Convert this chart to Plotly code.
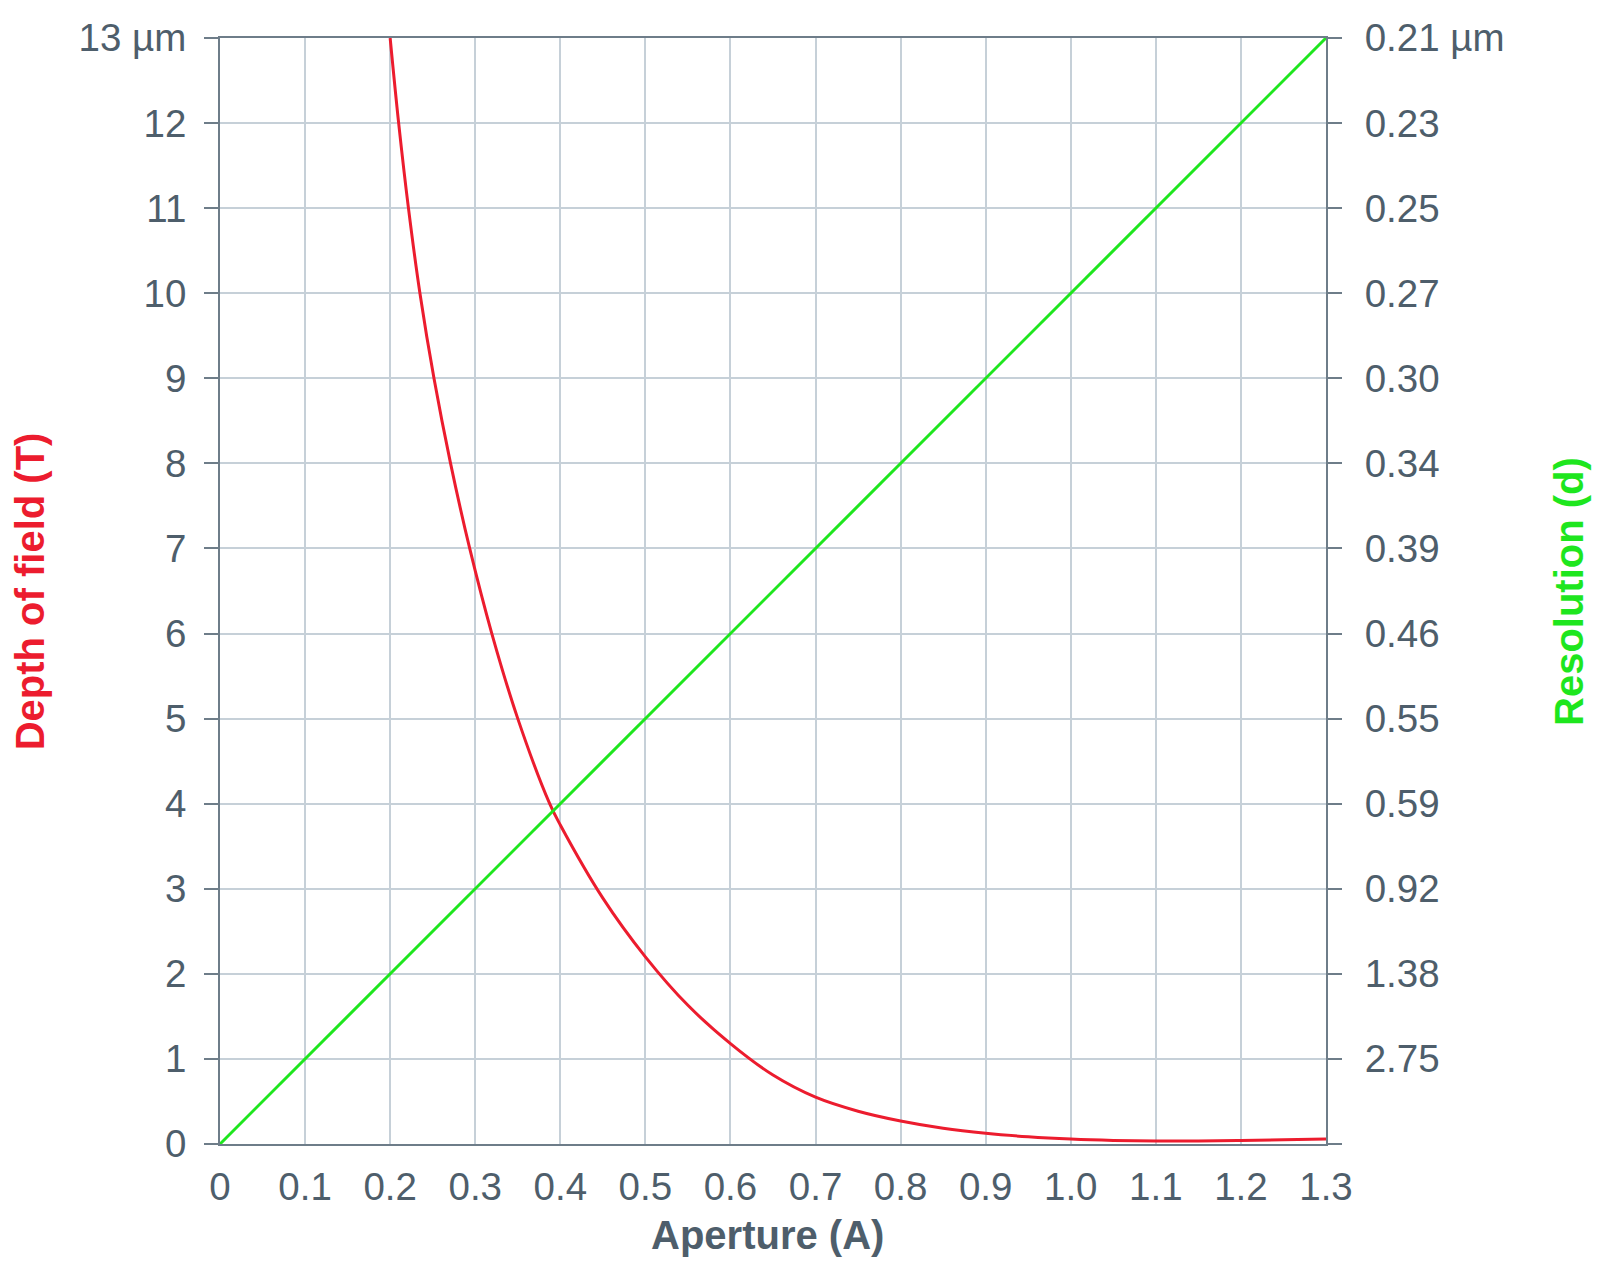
import plotly.graph_objects as go

# Depth of field (red)
aperture_dof = [0.2, 0.21, 0.2215, 0.235, 0.2515, 0.271, 0.2935, 0.3195, 0.35, 0.3875,
                0.4, 0.45, 0.5, 0.55, 0.6, 0.65, 0.7, 0.75, 0.8, 0.85, 0.9, 0.95,
                1.0, 1.05, 1.1, 1.15, 1.2, 1.25, 1.3]
depth_of_field = [13, 12, 11, 10, 9, 8, 7, 6, 5, 4,
                  3.75, 2.89, 2.2, 1.63, 1.18, 0.81, 0.55, 0.385, 0.27, 0.185, 0.126, 0.085,
                  0.058, 0.042, 0.035, 0.036, 0.042, 0.05, 0.06]

# Resolution (green), plotted against the right axis positions
aperture_res = [0.0, 1.3]
resolution_pos = [0, 13]

x_ticks = [0, 0.1, 0.2, 0.3, 0.4, 0.5, 0.6, 0.7, 0.8, 0.9, 1.0, 1.1, 1.2, 1.3]
x_labels = ["0", "0.1", "0.2", "0.3", "0.4", "0.5", "0.6", "0.7", "0.8", "0.9",
            "1.0", "1.1", "1.2", "1.3"]
y_ticks = list(range(14))
left_labels = ["0", "1", "2", "3", "4", "5", "6", "7", "8", "9", "10", "11", "12", "13 µm"]
right_labels = ["", "2.75", "1.38", "0.92", "0.59", "0.55", "0.46", "0.39", "0.34",
                "0.30", "0.27", "0.25", "0.23", "0.21 µm"]

RED = "#ec1c2e"
GREEN = "#1ee61e"
TXT = "#4e5e6b"
AXIS = "#6e7d89"
GRID = "#c6d0d8"
FONT = "Liberation Sans, Arial, sans-serif"
FS = 38.5
TS = 40

fig = go.Figure()
fig.add_trace(go.Scatter(x=aperture_res, y=resolution_pos, mode="lines", yaxis="y2",
                         line=dict(color=GREEN, width=3), showlegend=False,
                         hoverinfo="skip"))
fig.add_trace(go.Scatter(x=aperture_dof, y=depth_of_field, mode="lines",
                         line=dict(color=RED, width=3, shape="spline", smoothing=1.0),
                         showlegend=False, hoverinfo="skip"))

fig.update_layout(
    width=1600, height=1261,
    margin=dict(l=212, r=282, t=30, b=125, autoexpand=False),
    paper_bgcolor="white", plot_bgcolor="white",
    font=dict(family=FONT, size=FS, color=TXT),
    xaxis=dict(range=[0, 1.3], tickvals=x_ticks, ticktext=x_labels,
               showgrid=True, gridcolor=GRID, gridwidth=1.5,
               showline=True, linecolor=AXIS, linewidth=2, mirror=True,
               ticks="", ticklabelstandoff=8, zeroline=False, automargin=False,
               tickfont=dict(family=FONT, size=FS, color=TXT)),
    yaxis=dict(range=[0, 13], tickvals=y_ticks, ticktext=left_labels,
               showgrid=True, gridcolor=GRID, gridwidth=2,
               showline=True, linecolor=AXIS, linewidth=2, mirror=False,
               ticks="outside", ticklen=14, tickwidth=2, tickcolor=AXIS,
               ticklabelstandoff=10, zeroline=False, automargin=False,
               tickfont=dict(family=FONT, size=FS, color=TXT)),
    yaxis2=dict(range=[0, 13], tickvals=y_ticks, ticktext=right_labels,
                overlaying="y", side="right", showgrid=False,
                showline=True, linecolor=AXIS, linewidth=2,
                ticks="outside", ticklen=14, tickwidth=2, tickcolor=AXIS,
                ticklabelstandoff=15, zeroline=False, automargin=False,
                tickfont=dict(family=FONT, size=FS, color=TXT)),
    annotations=[
        dict(text="<b>Aperture (A)</b>", xref="paper", yref="paper",
             x=0.4946, y=-0.0823, xanchor="center", yanchor="middle",
             showarrow=False, font=dict(family=FONT, size=TS, color=TXT)),
        dict(text="<b>Depth of field (T)</b>", xref="paper", yref="paper",
             x=-0.1715, y=0.5, xanchor="center", yanchor="middle", textangle=-90,
             showarrow=False, font=dict(family=FONT, size=TS, color=RED)),
        dict(text="<b>Resolution (d)</b>", xref="paper", yref="paper",
             x=1.2197, y=0.5, xanchor="center", yanchor="middle", textangle=-90,
             showarrow=False, font=dict(family=FONT, size=TS, color=GREEN)),
    ],
)

fig.write_html("out.html")
